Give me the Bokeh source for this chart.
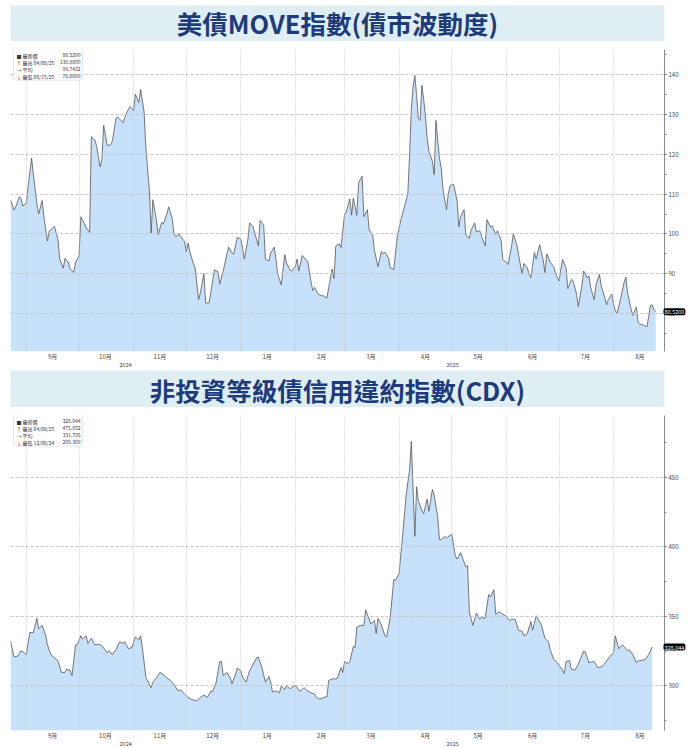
import pandas as pd
from bokeh.plotting import figure
from bokeh.models import (Range1d, FixedTicker, LinearAxis, Label, BoxAnnotation,
                          SingleIntervalTicker, Grid)
from bokeh.layouts import column
from bokeh.embed import file_html
from bokeh.resources import INLINE

# ---------------- data ----------------
move_dates = [
    "2024-08-23", "2024-08-25", "2024-08-26", "2024-08-28", "2024-08-29", "2024-08-30",
    "2024-09-01", "2024-09-02", "2024-09-04", "2024-09-05", "2024-09-07", "2024-09-08",
    "2024-09-10", "2024-09-11", "2024-09-13", "2024-09-14", "2024-09-17", "2024-09-19",
    "2024-09-20", "2024-09-22", "2024-09-23", "2024-09-25", "2024-09-26", "2024-09-28",
    "2024-09-29", "2024-10-01", "2024-10-02", "2024-10-04", "2024-10-05", "2024-10-07",
    "2024-10-08", "2024-10-10", "2024-10-11", "2024-10-13", "2024-10-14", "2024-10-15",
    "2024-10-17", "2024-10-19", "2024-10-20", "2024-10-22", "2024-10-23", "2024-10-24",
    "2024-10-26", "2024-10-27", "2024-10-29", "2024-10-30", "2024-11-01", "2024-11-02",
    "2024-11-04", "2024-11-05", "2024-11-07", "2024-11-08", "2024-11-10", "2024-11-11",
    "2024-11-12", "2024-11-14", "2024-11-15", "2024-11-17", "2024-11-18", "2024-11-20",
    "2024-11-21", "2024-11-23", "2024-11-24", "2024-11-25", "2024-11-27", "2024-11-28",
    "2024-11-30", "2024-12-01", "2024-12-02", "2024-12-03", "2024-12-05", "2024-12-06",
    "2024-12-08", "2024-12-09", "2024-12-11", "2024-12-12", "2024-12-14", "2024-12-15",
    "2024-12-17", "2024-12-19", "2024-12-20", "2024-12-22", "2024-12-24", "2024-12-25",
    "2024-12-27", "2024-12-28", "2024-12-30", "2025-01-01", "2025-01-02", "2025-01-03",
    "2025-01-05", "2025-01-06", "2025-01-08", "2025-01-09", "2025-01-11", "2025-01-12",
    "2025-01-14", "2025-01-15", "2025-01-17", "2025-01-18", "2025-01-20", "2025-01-21",
    "2025-01-22", "2025-01-24", "2025-01-26", "2025-01-27", "2025-01-29", "2025-01-30",
    "2025-02-01", "2025-02-02", "2025-02-03", "2025-02-05", "2025-02-06", "2025-02-08",
    "2025-02-10", "2025-02-11", "2025-02-12", "2025-02-14", "2025-02-16", "2025-02-17",
    "2025-02-19", "2025-02-20", "2025-02-22", "2025-02-23", "2025-02-24", "2025-02-26",
    "2025-02-27", "2025-03-01", "2025-03-02", "2025-03-04", "2025-03-05", "2025-03-06",
    "2025-03-08", "2025-03-09", "2025-03-11", "2025-03-12", "2025-03-14", "2025-03-15",
    "2025-03-17", "2025-03-18", "2025-03-20", "2025-03-22", "2025-03-23", "2025-03-24",
    "2025-03-26", "2025-03-27", "2025-03-29", "2025-03-30", "2025-03-31", "2025-04-02",
    "2025-04-03", "2025-04-04", "2025-04-06", "2025-04-07", "2025-04-08", "2025-04-09",
    "2025-04-10", "2025-04-11", "2025-04-12", "2025-04-13", "2025-04-14", "2025-04-15",
    "2025-04-16", "2025-04-17", "2025-04-18", "2025-04-20", "2025-04-21", "2025-04-22",
    "2025-04-23", "2025-04-24", "2025-04-25", "2025-04-26", "2025-04-28", "2025-04-29",
    "2025-04-30", "2025-05-02", "2025-05-04", "2025-05-05", "2025-05-06", "2025-05-08",
    "2025-05-09", "2025-05-11", "2025-05-12", "2025-05-14", "2025-05-15", "2025-05-17",
    "2025-05-18", "2025-05-20", "2025-05-21", "2025-05-23", "2025-05-24", "2025-05-26",
    "2025-05-27", "2025-05-29", "2025-05-30", "2025-06-01", "2025-06-02", "2025-06-04",
    "2025-06-05", "2025-06-07", "2025-06-08", "2025-06-10", "2025-06-11", "2025-06-13",
    "2025-06-14", "2025-06-15", "2025-06-17", "2025-06-18", "2025-06-20", "2025-06-22",
    "2025-06-23", "2025-06-24", "2025-06-26", "2025-06-28", "2025-06-29", "2025-07-01",
    "2025-07-02", "2025-07-03", "2025-07-05", "2025-07-06", "2025-07-08", "2025-07-09",
    "2025-07-11", "2025-07-12", "2025-07-14", "2025-07-15", "2025-07-17", "2025-07-18",
    "2025-07-19", "2025-07-21", "2025-07-22", "2025-07-24", "2025-07-25", "2025-07-27",
    "2025-07-28", "2025-07-29", "2025-07-31", "2025-08-01", "2025-08-02", "2025-08-03",
    "2025-08-05", "2025-08-07", "2025-08-08", "2025-08-09", "2025-08-11", "2025-08-12",
    "2025-08-14", "2025-08-15", "2025-08-16", "2025-08-18", "2025-08-20", "2025-08-21",
    "2025-08-22", "2025-08-23", "2025-08-24", "2025-08-25",
]
move_values = [
    108.6, 106.0, 106.8, 109.3, 108.9, 107.0,
    107.8, 111.7, 119.1, 115.0, 107.6, 105.0,
    108.4, 104.3, 98.2, 100.7, 101.9, 98.6,
    93.7, 91.4, 93.9, 92.7, 91.2, 90.4,
    92.9, 94.5, 104.3, 102.7, 101.5, 100.4,
    124.4, 123.6, 122.0, 116.8, 118.7, 127.3,
    122.2, 122.4, 123.4, 129.1, 129.3, 128.9,
    127.9, 129.3, 131.2, 132.0, 131.0, 135.1,
    133.0, 136.3, 130.6, 121.6, 110.9, 100.2,
    108.6, 103.5, 99.8, 102.9, 102.5, 105.2,
    106.8, 103.9, 100.1, 99.3, 100.0, 99.2,
    98.1, 95.6, 97.7, 95.6, 92.6, 91.5,
    83.5, 85.2, 90.1, 82.7, 82.7, 85.5,
    91.0, 90.5, 87.4, 90.7, 94.8, 96.7,
    95.2, 95.0, 99.2, 98.7, 96.4, 93.7,
    98.5, 102.8, 101.8, 100.1, 97.0, 103.4,
    102.2, 93.6, 93.2, 95.2, 96.7, 93.6,
    89.9, 87.2, 94.8, 92.7, 90.9, 90.7,
    91.8, 93.7, 90.7, 94.6, 94.0, 93.2,
    87.8, 85.8, 86.6, 84.9, 84.5, 84.5,
    83.9, 86.6, 91.2, 88.8, 96.9, 97.5,
    96.6, 104.9, 105.5, 108.8, 104.7, 109.0,
    104.7, 112.9, 114.5, 104.3, 106.1, 101.0,
    99.7, 95.9, 91.8, 95.6, 95.0, 95.4,
    94.0, 91.5, 91.1, 95.2, 99.3, 103.4,
    105.1, 106.7, 110.0, 119.9, 131.4, 137.1,
    139.8, 134.7, 128.9, 128.5, 137.3, 133.8,
    129.7, 124.0, 120.7, 118.2, 114.9, 128.5,
    123.6, 119.0, 116.6, 111.2, 106.1, 110.0,
    112.1, 112.5, 108.4, 101.8, 104.3, 106.1,
    99.7, 98.9, 101.0, 102.8, 100.6, 100.8,
    99.3, 97.0, 103.6, 101.8, 102.0, 99.9,
    100.8, 98.5, 93.6, 92.9, 92.3, 96.9,
    100.0, 97.3, 94.8, 89.9, 92.6, 91.5,
    89.9, 89.0, 95.4, 93.7, 97.3, 93.4,
    90.3, 95.0, 92.9, 91.8, 90.1, 88.2,
    91.1, 93.6, 91.5, 86.3, 88.6, 88.2,
    84.9, 81.8, 87.0, 90.7, 89.0, 89.5,
    86.6, 83.5, 87.2, 89.9, 87.0, 84.1,
    82.2, 83.5, 84.9, 82.5, 80.8, 80.0,
    83.7, 87.8, 89.2, 85.3, 81.1, 79.6,
    81.7, 77.8, 77.4, 77.1, 76.7, 79.2,
    82.1, 82.2, 81.0, 80.5,
]

cdx_dates = [
    "2024-08-23", "2024-08-25", "2024-08-27", "2024-08-29", "2024-08-31", "2024-09-01",
    "2024-09-03", "2024-09-05", "2024-09-07", "2024-09-08", "2024-09-10", "2024-09-12",
    "2024-09-13", "2024-09-15", "2024-09-17", "2024-09-19", "2024-09-21", "2024-09-23",
    "2024-09-24", "2024-09-26", "2024-09-27", "2024-09-29", "2024-09-30", "2024-10-02",
    "2024-10-03", "2024-10-05", "2024-10-06", "2024-10-08", "2024-10-10", "2024-10-12",
    "2024-10-14", "2024-10-15", "2024-10-17", "2024-10-18", "2024-10-20", "2024-10-22",
    "2024-10-24", "2024-10-26", "2024-10-27", "2024-10-29", "2024-10-31", "2024-11-02",
    "2024-11-04", "2024-11-05", "2024-11-06", "2024-11-08", "2024-11-11", "2024-11-12",
    "2024-11-14", "2024-11-16", "2024-11-18", "2024-11-20", "2024-11-22", "2024-11-24",
    "2024-11-26", "2024-11-28", "2024-11-30", "2024-12-02", "2024-12-04", "2024-12-05",
    "2024-12-07", "2024-12-09", "2024-12-11", "2024-12-13", "2024-12-15", "2024-12-16",
    "2024-12-18", "2024-12-20", "2024-12-21", "2024-12-22", "2024-12-24", "2024-12-26",
    "2024-12-27", "2024-12-29", "2024-12-30", "2025-01-01", "2025-01-02", "2025-01-04",
    "2025-01-06", "2025-01-08", "2025-01-10", "2025-01-11", "2025-01-13", "2025-01-15",
    "2025-01-17", "2025-01-18", "2025-01-19", "2025-01-21", "2025-01-23", "2025-01-24",
    "2025-01-26", "2025-01-27", "2025-01-29", "2025-01-30", "2025-02-01", "2025-02-03",
    "2025-02-04", "2025-02-06", "2025-02-08", "2025-02-10", "2025-02-12", "2025-02-13",
    "2025-02-15", "2025-02-17", "2025-02-19", "2025-02-20", "2025-02-22", "2025-02-24",
    "2025-02-25", "2025-02-27", "2025-02-28", "2025-03-01", "2025-03-03", "2025-03-04",
    "2025-03-06", "2025-03-07", "2025-03-08", "2025-03-10", "2025-03-12", "2025-03-13",
    "2025-03-15", "2025-03-16", "2025-03-18", "2025-03-19", "2025-03-20", "2025-03-22",
    "2025-03-24", "2025-03-25", "2025-03-27", "2025-03-29", "2025-03-30", "2025-04-01",
    "2025-04-03", "2025-04-05", "2025-04-07", "2025-04-08", "2025-04-10", "2025-04-11",
    "2025-04-12", "2025-04-14", "2025-04-15", "2025-04-17", "2025-04-18", "2025-04-20",
    "2025-04-21", "2025-04-23", "2025-04-24", "2025-04-25", "2025-04-27", "2025-04-28",
    "2025-04-30", "2025-05-01", "2025-05-03", "2025-05-04", "2025-05-06", "2025-05-07",
    "2025-05-09", "2025-05-10", "2025-05-11", "2025-05-13", "2025-05-15", "2025-05-17",
    "2025-05-18", "2025-05-20", "2025-05-22", "2025-05-23", "2025-05-25", "2025-05-26",
    "2025-05-28", "2025-05-30", "2025-06-01", "2025-06-03", "2025-06-04", "2025-06-06",
    "2025-06-08", "2025-06-10", "2025-06-11", "2025-06-13", "2025-06-15", "2025-06-16",
    "2025-06-18", "2025-06-19", "2025-06-21", "2025-06-23", "2025-06-25", "2025-06-26",
    "2025-06-28", "2025-06-30", "2025-07-02", "2025-07-04", "2025-07-05", "2025-07-07",
    "2025-07-08", "2025-07-10", "2025-07-12", "2025-07-13", "2025-07-15", "2025-07-16",
    "2025-07-18", "2025-07-20", "2025-07-21", "2025-07-23", "2025-07-25", "2025-07-26",
    "2025-07-28", "2025-07-30", "2025-08-01", "2025-08-02", "2025-08-04", "2025-08-06",
    "2025-08-07", "2025-08-09", "2025-08-10", "2025-08-12", "2025-08-14", "2025-08-15",
    "2025-08-17", "2025-08-19", "2025-08-21", "2025-08-23",
]
cdx_values = [
    332.4, 321.0, 321.4, 325.4, 323.8, 322.6,
    338.4, 338.4, 348.7, 341.2, 343.6, 336.6,
    329.6, 322.6, 320.3, 317.9, 309.8, 309.8,
    312.1, 311.0, 307.5, 329.6, 329.6, 336.1,
    333.8, 336.1, 330.7, 334.2, 329.6, 330.0,
    329.1, 327.3, 323.8, 325.4, 322.6, 326.1,
    331.9, 330.7, 331.9, 326.8, 327.7, 335.4,
    333.1, 336.1, 327.7, 306.3, 298.8, 302.8,
    305.8, 309.8, 308.2, 305.8, 304.0, 301.2,
    297.0, 297.0, 294.2, 291.8, 290.4, 290.0,
    289.4, 291.8, 293.5, 291.8, 296.5, 295.8,
    302.8, 317.5, 317.5, 307.5, 309.8, 305.8,
    301.6, 308.6, 312.8, 311.0, 306.3, 302.8,
    311.0, 315.6, 320.3, 320.7, 313.3, 302.8,
    306.8, 302.8, 295.8, 296.5, 295.1, 299.8,
    297.4, 300.5, 298.1, 298.8, 300.5, 297.0,
    296.5, 298.8, 296.5, 295.1, 294.2, 291.8,
    290.4, 291.8, 292.3, 304.0, 305.1, 305.1,
    305.8, 313.3, 309.8, 317.5, 316.1, 317.5,
    328.4, 327.7, 342.4, 343.6, 343.6, 354.7,
    348.2, 344.7, 347.0, 337.7, 348.7, 343.6,
    336.1, 335.4, 349.4, 376.6, 376.2, 380.8,
    407.6, 436.7, 455.4, 475.9, 407.6, 443.3,
    433.2, 426.3, 423.9, 434.4, 425.6, 441.4,
    437.2, 421.6, 405.3, 405.3, 407.6, 406.5,
    408.3, 409.2, 393.6, 391.3, 396.0, 392.5,
    385.5, 386.7, 352.9, 343.6, 352.4, 348.2,
    349.4, 348.7, 365.7, 364.1, 369.2, 351.7,
    353.3, 351.7, 350.1, 347.0, 348.2, 347.8,
    340.1, 339.4, 336.1, 337.7, 346.4, 340.1,
    350.5, 348.2, 344.0, 334.2, 331.9, 326.1,
    319.1, 316.8, 313.3, 309.1, 317.5, 318.4,
    312.1, 311.4, 315.6, 319.1, 324.9, 324.5,
    316.8, 317.5, 317.5, 313.3, 313.7, 314.4,
    317.9, 321.4, 323.8, 336.1, 326.8, 329.6,
    328.4, 325.4, 326.1, 322.6, 316.8, 317.9,
    318.4, 319.1, 322.6, 328.0,
]

month_labels = ["9月", "10月", "11月", "12月", "1月", "2月", "3月", "4月", "5月", "6月", "7月", "8月"]
year_labels = ["2024", "2025"]

legend_symbols = ["■", "↑", "→", "↓"]
move_legend_labels = ["最新價", "最高 04/08/25", "平均", "最低 08/15/25"]
move_legend_values = ["80.5200", "139.8800", "99.7432", "76.6600"]
cdx_legend_labels = ["最新價", "最高 04/08/25", "平均", "最低 12/06/24"]
cdx_legend_values = ["328.044", "475.852", "331.795", "289.389"]

title_move = "美債MOVE指數(債市波動度)"
title_cdx = "非投資等級債信用違約指數(CDX)"

# ---------------- styling ----------------
FONT = "Noto Sans CJK TC"
X_START, X_END = "2024-08-23", "2025-08-30"
W = 692
LEFT, RIGHT = 10, 28
FILL = "#c8e1fa"
LINE = "#555555"
TOP_B, BOT_B = 8, 15


def ms(d):
    return int(pd.Timestamp(d).value // 10**6)


x0, x1 = ms(X_START), ms(X_END)
month_starts = pd.date_range("2024-09-01", "2025-08-01", freq="MS")
grid_ticks = [ms(d) for d in month_starts]
label_ticks = [ms(d + pd.Timedelta(days=15)) for d in month_starts]
y_split = ms("2025-01-01")
year_ticks = [int((x0 + y_split) / 2), int((y_split + x1) / 2)]


def title_fig(text, height, top_pad, ypos):
    t = figure(width=W, height=height, x_range=Range1d(0, 1), y_range=Range1d(0, 1),
               x_axis_type=None, y_axis_type=None, toolbar_location=None,
               output_backend="svg", min_border_left=LEFT, min_border_right=9,
               min_border_top=top_pad, min_border_bottom=0,
               background_fill_color="#dfeef3", border_fill_color="white",
               outline_line_color=None)
    t.add_layout(Label(x=0.5, y=ypos, text=text, text_align="center",
                       text_baseline="middle", text_font=FONT, text_font_style="bold",
                       text_font_size="25.5px", text_color="#1d3b7b"))
    return t


def chart(dates, vals, y0, y1, interval, labels, values, height):
    p = figure(width=W, height=height, x_range=Range1d(x0, x1), y_range=Range1d(y0, y1),
               x_axis_type=None, y_axis_location="right", toolbar_location=None,
               output_backend="svg", min_border_left=LEFT, min_border_right=RIGHT,
               min_border_top=TOP_B, min_border_bottom=0, outline_line_color=None,
               background_fill_color="white", border_fill_color="white")
    xs = pd.to_datetime(dates)
    p.varea(x=xs, y1=y0, y2=vals, fill_color=FILL, fill_alpha=1.0)
    p.line(x=xs, y=vals, line_color=LINE, line_width=0.8)

    yax = p.yaxis[0]
    yax.ticker = SingleIntervalTicker(interval=interval, num_minor_ticks=2)
    yax.axis_line_color = "#8c8c8c"
    yax.major_tick_in = 0
    yax.major_tick_out = 2
    yax.major_tick_line_color = "#444444"
    yax.minor_tick_in = 0
    yax.minor_tick_out = 2
    yax.minor_tick_line_color = "#888888"
    yax.major_label_text_font_size = "6px"
    yax.major_label_text_color = "#444444"
    yax.major_label_text_font = FONT
    yax.major_label_standoff = 2

    p.ygrid.grid_line_color = "#c4c4c4"
    p.ygrid.grid_line_dash = "3 2"
    p.ygrid.level = "overlay"
    xg = Grid(dimension=0, ticker=FixedTicker(ticks=grid_ticks),
              grid_line_color="#c4c4c4", grid_line_dash="1 2")
    xg.level = "overlay"
    p.add_layout(xg)

    mon_ax = LinearAxis(ticker=FixedTicker(ticks=label_ticks, minor_ticks=grid_ticks),
                        major_label_overrides=dict(zip(label_ticks, month_labels)),
                        axis_line_color=None, major_tick_line_color=None,
                        major_tick_out=0, major_tick_in=0,
                        minor_tick_in=0, minor_tick_out=0, minor_tick_line_color=None,
                        major_label_text_font_size="6px", major_label_text_color="#444444",
                        major_label_text_font=FONT, major_label_standoff=0)
    p.add_layout(mon_ax, "below")
    yr_ax = LinearAxis(ticker=FixedTicker(ticks=year_ticks, minor_ticks=[]),
                       major_label_overrides=dict(zip(year_ticks, year_labels)),
                       axis_line_color=None, major_tick_line_color=None,
                       minor_tick_line_color=None, major_tick_out=0, major_tick_in=0,
                       minor_tick_out=0, minor_tick_in=0,
                       major_label_text_font_size="5.5px", major_label_text_color="#444444",
                       major_label_text_font=FONT, major_label_standoff=-2)
    p.add_layout(yr_ax, "below")

    # last value tag on the axis (kept in a side panel so it is not clipped to the frame)
    p.add_layout(Label(x=x1, y=vals[-1], text=values[0], x_offset=-1,
                       text_align="left", text_baseline="middle", text_font=FONT,
                       text_font_size="5.5px", text_color="white",
                       background_fill_color="black", padding=1, border_radius=2),
                 "above")

    # legend box (positions expressed in frame pixels)
    fw = W - LEFT - RIGHT
    fh = height - TOP_B - BOT_B

    def fx(px):
        return x0 + px / fw * (x1 - x0)

    def fy(py):
        return y1 - py / fh * (y1 - y0)

    p.add_layout(BoxAnnotation(left=fx(3), right=fx(72), top=fy(-1), bottom=fy(31),
                               fill_color="white", fill_alpha=1.0, line_color="#9a9a9a",
                               line_width=0.8, border_radius=3, level="overlay"))
    for i, (sym, lab, val) in enumerate(zip(legend_symbols, labels, values)):
        yy = fy(6 + 7 * i)
        common = dict(y=yy, text_baseline="middle", text_font=FONT,
                      text_font_size="5px", text_color="#333333", level="overlay")
        p.add_layout(Label(x=fx(6), text=sym, text_align="left", **common))
        p.add_layout(Label(x=fx(12), text=lab, text_align="left", **common))
        p.add_layout(Label(x=fx(70), text=val, text_align="right", **common))
    return p


t1 = title_fig(title_move, 41, 5, 0.53)
c1 = chart(move_dates, move_values, 70.5, 146.3, 10,
           move_legend_labels, move_legend_values, 328)
t2 = title_fig(title_cdx, 38, 1, 0.5)
c2 = chart(cdx_dates, cdx_values, 268.0, 494.5, 50,
           cdx_legend_labels, cdx_legend_values, 341)

layout = column(t1, c1, t2, c2, spacing=0)
open("out.html", "w").write(file_html(layout, INLINE))
